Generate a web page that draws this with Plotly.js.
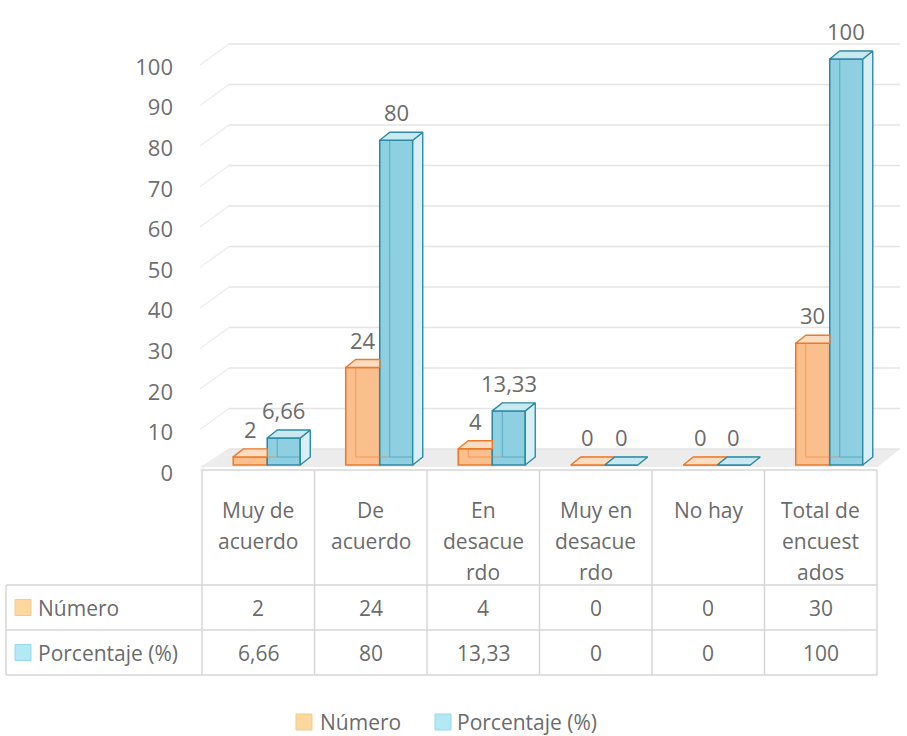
<!DOCTYPE html>
<html>
<head>
<meta charset="utf-8">
<script src="https://cdn.plot.ly/plotly-3.0.1.min.js"></script>
<style>html,body{margin:0;padding:0;background:#fff;}#chart{width:907px;height:736px;}</style>
</head>
<body>
<div id="chart"></div>
<script>
// ---- data ----
const categories = [["Muy de","acuerdo"],["De","acuerdo"],["En","desacue","rdo"],["Muy en","desacue","rdo"],["No hay"],["Total de","encuest","ados"]];
const seriesNames = ["Número","Porcentaje (%)"];
const numero = [2, 24, 4, 0, 0, 30];
const porcentaje = [6.66, 80, 13.33, 0, 0, 100];
const yTicks = [0,10,20,30,40,50,60,70,80,90,100];

// ---- geometry (pixels) ----
const L = 198, R = 5, T = 15, B = 256;
const W = 907 - L - R, H = 736 - T - B;
const CATPX = 112.5, VALPX = 4.06;
const xmin = -0.5 - (202 - L) / CATPX, xmax = xmin + W / CATPX;
const ymin = -(T + H - 465) / VALPX, ymax = ymin + H / VALPX;
const PX = p => (p - L) / W;            // pixel x -> paper
const PY = p => (T + H - p) / H;        // pixel y -> paper
const XD = p => xmin + (p - L) / CATPX; // pixel x -> data x
const dx = 10 / CATPX, dy = 8 / VALPX;  // bar depth
const fmt = v => String(v).replace('.', ',');

const ser = [
  {name: seriesNames[0], vals: numero, off: -25 / CATPX, w: 34 / CATPX,
   front: '#FBBF8E', edge: '#EC7A2C', top: '#FDDCC0', side: '#FCD2B0', key: '#FDD89E', keyEdge: '#F3C98C'},
  {name: seriesNames[1], vals: porcentaje, off: 9 / CATPX, w: 33 / CATPX,
   front: '#8ED0E1', edge: '#2E8AA5', top: '#C9E9F1', side: '#D8EFF5', key: '#B2E9F5', keyEdge: '#97D8E8'}
];
const idx = categories.map((c, i) => i);

const traces = [];
// back (hidden) edges seen through the translucent front
ser.forEach(s => {
  const xs = [], ys = [];
  idx.forEach(i => {
    const x0 = i + s.off, x1 = x0 + s.w, v = s.vals[i];
    xs.push(x0 + dx, x0 + dx, null, x0 + dx, x1 + dx, null);
    ys.push(dy, v + dy, null, dy, dy, null);
  });
  traces.push({type: 'scatter', mode: 'lines', x: xs, y: ys, hoverinfo: 'skip', showlegend: false,
    line: {color: s.edge, width: 1}, opacity: 0.55});
});
// front faces
ser.forEach(s => {
  traces.push({type: 'bar', name: s.name, x: idx, y: s.vals, offset: s.off, width: s.w,
    marker: {color: s.front, line: {color: s.edge, width: 1.6}}, hoverinfo: 'skip', showlegend: false});
});
// side faces (only where not hidden by the neighbour bar)
ser.forEach((s, k) => {
  const xs = [], ys = [];
  idx.forEach(i => {
    const v = s.vals[i];
    if (v <= 0) return;
    if (k === 0 && ser[1].vals[i] >= v) return;
    const x1 = i + s.off + s.w;
    xs.push(x1, x1, x1 + dx, x1 + dx, x1, null);
    ys.push(0, v, v + dy, dy, 0, null);
  });
  if (xs.length) traces.push({type: 'scatter', mode: 'lines', x: xs, y: ys, fill: 'toself', fillcolor: s.side,
    line: {color: s.edge, width: 1.4}, hoverinfo: 'skip', showlegend: false});
});
// top faces
ser.forEach((s, k) => {
  const xs = [], ys = [];
  idx.forEach(i => {
    const v = s.vals[i];
    const x0 = i + s.off, x1 = x0 + s.w;
    const hidden = (k === 0 && ser[1].vals[i] > v + dy);
    if (hidden) {
      xs.push(x0, x1, x1, x0 + dx, x0, null);
      ys.push(v, v, v + dy, v + dy, v, null);
    } else {
      xs.push(x0, x1, x1 + dx, x0 + dx, x0, null);
      ys.push(v, v, v + dy, v + dy, v, null);
    }
  });
  traces.push({type: 'scatter', mode: 'lines', x: xs, y: ys, fill: 'toself', fillcolor: s.top,
    line: {color: s.edge, width: 1.4}, hoverinfo: 'skip', showlegend: false});
});

// ---- shapes: floor, back wall gridlines, table ----
const shapes = [];
shapes.push({type: 'path', layer: 'below', xref: 'x', yref: 'y',
  path: `M${XD(200)},${-2 / VALPX} L${XD(878)},${-2 / VALPX} L${XD(900)},${16 / VALPX} L${XD(228)},${16 / VALPX} Z`,
  fillcolor: '#ECECEC', line: {width: 0}});
yTicks.forEach(v => {
  const yf = (465 - (470 - 4.05 * v)) / VALPX;
  const yb = (465 - (449 - 4.05 * v)) / VALPX;
  shapes.push({type: 'line', layer: 'below', xref: 'x', yref: 'y', x0: XD(200), y0: yf, x1: XD(229), y1: yb,
    line: {color: '#EDEDED', width: 1.5}});
  shapes.push({type: 'line', layer: 'below', xref: 'x', yref: 'y', x0: XD(229), y0: yb, x1: XD(900), y1: yb,
    line: {color: '#E4E4E4', width: 1.5}});
});
const gridC = '#D6D6D6';
const colEdges = idx.map(i => 202 + CATPX * i).concat([202 + CATPX * categories.length]);
const tblTop = 470, r1 = 585, r2 = 630, r3 = 675, leftX = 6;
const hl = (x0, x1, y) => shapes.push({type: 'line', xref: 'paper', yref: 'paper', x0: PX(x0), x1: PX(x1), y0: PY(y), y1: PY(y), line: {color: gridC, width: 1.5}});
const vl = (x, y0, y1) => shapes.push({type: 'line', xref: 'paper', yref: 'paper', x0: PX(x), x1: PX(x), y0: PY(y0), y1: PY(y1), line: {color: gridC, width: 1.5}});
hl(colEdges[0], colEdges[colEdges.length - 1], tblTop);
[r1, r2, r3].forEach(y => hl(leftX, colEdges[colEdges.length - 1], y));
colEdges.forEach(x => vl(x, tblTop, r3));
vl(leftX, r1, r3);

const annotations = [];
const txtC = '#6B6B6B';
const F = 'Open Sans, sans-serif';
// header cells
categories.forEach((lines, i) => {
  const cx = colEdges[i] + CATPX / 2;
  lines.forEach((t, j) => {
    annotations.push({xref: 'paper', yref: 'paper', x: PX(cx), y: PY(510 + 31 * j), text: t, showarrow: false,
      xanchor: 'center', yanchor: 'middle', font: {family: F, size: 21, color: txtC}});
  });
});
// data rows
[[ser[0], (r1 + r2) / 2], [ser[1], (r2 + r3) / 2]].forEach(([s, cy]) => {
  shapes.push({type: 'rect', xref: 'paper', yref: 'paper', x0: PX(15), x1: PX(31), y0: PY(cy - 8), y1: PY(cy + 8),
    fillcolor: s.key, line: {color: s.keyEdge, width: 1}});
  annotations.push({xref: 'paper', yref: 'paper', x: PX(36), y: PY(cy), text: s.name, showarrow: false,
    xanchor: 'left', yanchor: 'middle', font: {family: F, size: 21, color: txtC}});
  s.vals.forEach((v, i) => {
    annotations.push({xref: 'paper', yref: 'paper', x: PX(colEdges[i] + CATPX / 2), y: PY(cy), text: fmt(v),
      showarrow: false, xanchor: 'center', yanchor: 'middle', font: {family: F, size: 21, color: txtC}});
  });
});
// data labels above bars
ser.forEach(s => {
  s.vals.forEach((v, i) => {
    annotations.push({xref: 'x', yref: 'y', x: i + s.off + s.w / 2, y: v + dy, yshift: 20, text: fmt(v),
      showarrow: false, xanchor: 'center', yanchor: 'middle', font: {family: F, size: 22, color: txtC}});
  });
});
// legend at bottom
const legY = 722;
[[ser[0], 296, 318], [ser[1], 435, 455]].forEach(([s, kx, tx]) => {
  shapes.push({type: 'rect', xref: 'paper', yref: 'paper', x0: PX(kx), x1: PX(kx + 16), y0: PY(legY - 8), y1: PY(legY + 8),
    fillcolor: s.key, line: {color: s.keyEdge, width: 1}});
  annotations.push({xref: 'paper', yref: 'paper', x: PX(tx), y: PY(legY), text: s.name, showarrow: false,
    xanchor: 'left', yanchor: 'middle', font: {family: F, size: 21, color: txtC}});
});

const layout = {
  width: 907, height: 736,
  margin: {l: L, r: R, t: T, b: B, pad: 0},
  paper_bgcolor: '#ffffff', plot_bgcolor: 'rgba(0,0,0,0)',
  barmode: 'overlay', showlegend: false,
  font: {family: F, color: txtC},
  xaxis: {range: [xmin, xmax], showgrid: false, zeroline: false, showticklabels: false, showline: false, ticks: '', fixedrange: true},
  yaxis: {range: [ymin, ymax], showgrid: false, zeroline: false, showline: false, ticks: '',
    tickmode: 'array', tickvals: yTicks, ticktext: yTicks.map(String),
    ticklabelshift: 8, ticklabelstandoff: 24,
    tickfont: {family: F, size: 22, color: '#6F6F6F'}, fixedrange: true},
  shapes: shapes,
  annotations: annotations
};

Plotly.newPlot('chart', traces, layout, {displayModeBar: false, staticPlot: true});
</script>
</body>
</html>
